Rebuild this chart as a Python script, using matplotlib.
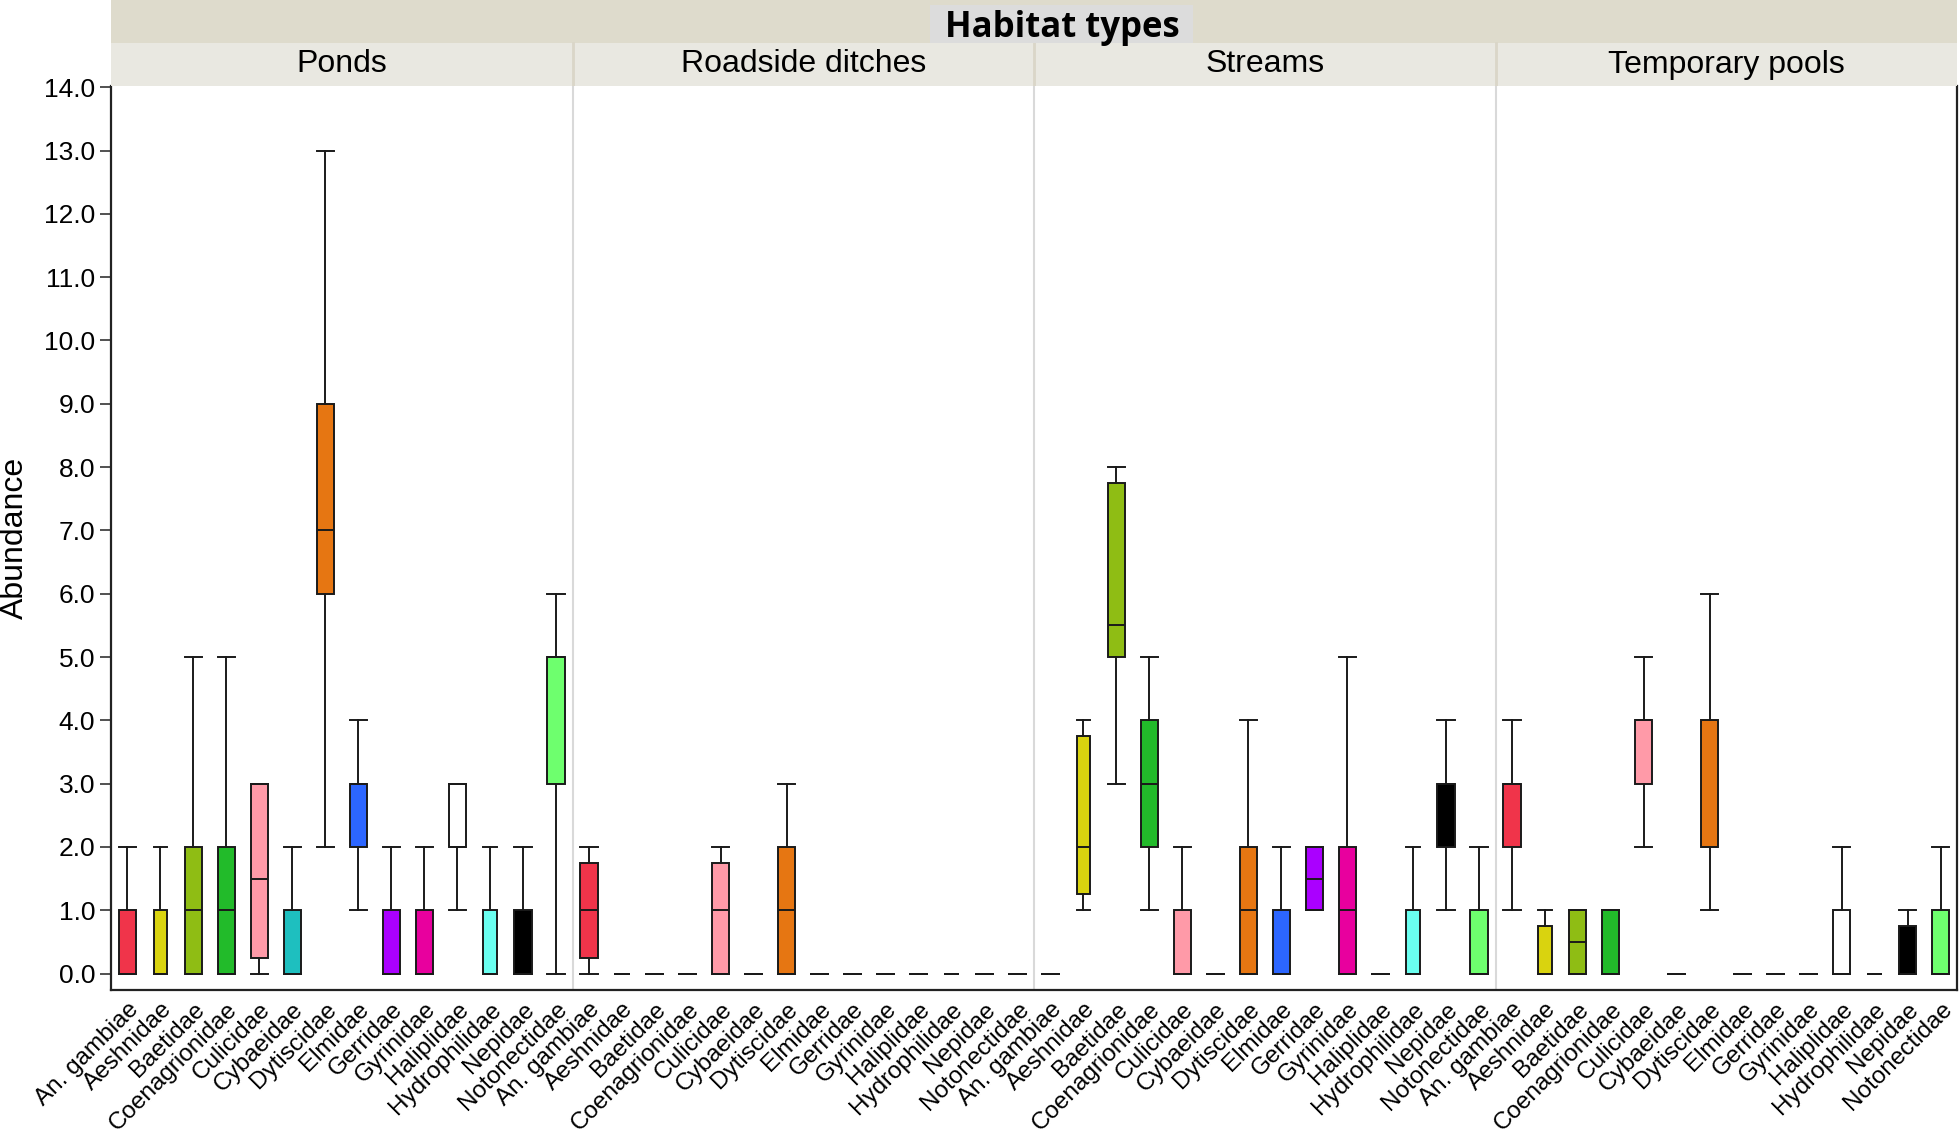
import matplotlib
matplotlib.use("Agg")
import matplotlib.pyplot as plt
from matplotlib.patches import Rectangle

plt.rcParams['font.family'] = ['Liberation Sans', 'DejaVu Sans']

# ---------------- data ----------------
taxa = ["An. gambiae", "Aeshnidae", "Baetidae", "Coenagrionidae", "Culicidae",
        "Cybaeidae", "Dytiscidae", "Elmidae", "Gerridae", "Gyrinidae",
        "Haliplidae", "Hydrophilidae", "Nepidae", "Notonectidae"]
habitats = ["Ponds", "Roadside ditches", "Streams", "Temporary pools"]

# five-number summaries per taxon: (min, q1, median, q3, max)
ponds = [(0, 0, 0, 1, 2), (0, 0, 0, 1, 2), (0, 0, 1, 2, 5), (0, 0, 1, 2, 5),
         (0, 0.25, 1.5, 3, 3), (0, 0, 0, 1, 2), (2, 6, 7, 9, 13), (1, 2, 3, 3, 4),
         (0, 0, 0, 1, 2), (0, 0, 0, 1, 2), (1, 2, 2, 3, 3), (0, 0, 0, 1, 2),
         (0, 0, 0, 1, 2), (0, 3, 5, 5, 6)]
roadside = [(0, 0.25, 1, 1.75, 2), (0, 0, 0, 0, 0), (0, 0, 0, 0, 0), (0, 0, 0, 0, 0),
            (0, 0, 1, 1.75, 2), (0, 0, 0, 0, 0), (0, 0, 1, 2, 3), (0, 0, 0, 0, 0),
            (0, 0, 0, 0, 0), (0, 0, 0, 0, 0), (0, 0, 0, 0, 0), (0, 0, 0, 0, 0),
            (0, 0, 0, 0, 0), (0, 0, 0, 0, 0)]
streams = [(0, 0, 0, 0, 0), (1, 1.25, 2, 3.75, 4), (3, 5, 5.5, 7.75, 8), (1, 2, 3, 4, 5),
           (0, 0, 0, 1, 2), (0, 0, 0, 0, 0), (0, 0, 1, 2, 4), (0, 0, 0, 1, 2),
           (1, 1, 1.5, 2, 2), (0, 0, 1, 2, 5), (0, 0, 0, 0, 0), (0, 0, 0, 1, 2),
           (1, 2, 3, 3, 4), (0, 0, 0, 1, 2)]
temp_pools = [(1, 2, 3, 3, 4), (0, 0, 0, 0.75, 1), (0, 0, 0.5, 1, 1), (0, 0, 1, 1, 1),
              (2, 3, 4, 4, 5), (0, 0, 0, 0, 0), (1, 2, 2, 4, 6), (0, 0, 0, 0, 0),
              (0, 0, 0, 0, 0), (0, 0, 0, 0, 0), (0, 0, 0, 1, 2), (0, 0, 0, 0, 0),
              (0, 0, 0, 0.75, 1), (0, 0, 0, 1, 2)]
yticks = [0, 1, 2, 3, 4, 5, 6, 7, 8, 9, 10, 11, 12, 13, 14]

# ---------------- style ----------------
colors = ["#F0344A", "#D9D30F", "#8FBD14", "#22BB2A", "#FF9AA8", "#1EBFBF",
          "#E67612", "#2C66FF", "#AA00FF", "#E8009E", "#FFFFFF", "#6AFFF0",
          "#000000", "#6EFF6E"]
box_w = [0.52, 0.40, 0.52, 0.52, 0.52, 0.52, 0.52, 0.52, 0.52, 0.52, 0.52, 0.40, 0.52, 0.52]

W, H = 1960, 1132
fig = plt.figure(figsize=(W / 100, H / 100), dpi=100)
L, R, T, B = 111, 1957, 86, 990
ax = fig.add_axes([L / W, 1 - B / H, (R - L) / W, (B - T) / H])

all_data = [ponds, roadside, streams, temp_pools]
n = len(taxa)
for p, dat in enumerate(all_data):
    stats = [dict(whislo=mn, q1=q1, med=med, q3=q3, whishi=mx, fliers=[])
             for (mn, q1, med, q3, mx) in dat]
    pos = [p * n + i for i in range(n)]
    res = ax.bxp(stats, positions=pos, widths=box_w, capwidths=box_w,
                 patch_artist=True, showfliers=False, manage_ticks=False,
                 boxprops=dict(edgecolor="#1a1a1a", linewidth=1.4),
                 whiskerprops=dict(color="#1a1a1a", linewidth=1.4),
                 capprops=dict(color="#1a1a1a", linewidth=1.4),
                 medianprops=dict(color="#1a1a1a", linewidth=1.4))
    for b, c in zip(res['boxes'], colors):
        b.set_facecolor(c)

for k in range(1, len(habitats)):
    ax.axvline(k * n - 0.5, color="#D9D9D9", linewidth=1.5, zorder=0)

ax.set_xlim(-0.5, len(habitats) * n - 0.5)
ax.set_ylim(-0.26, 14.02)
ax.set_yticks(yticks)
ax.set_yticklabels([f"{v:.1f}" for v in yticks], fontsize=19)
ax.tick_params(axis='y', length=8, width=1.2, color="#333333")
ax.set_xticks(range(len(habitats) * n))
ax.set_xticklabels(taxa * len(habitats), rotation=45, ha='right',
                   rotation_mode='anchor', fontsize=17.5)
ax.tick_params(axis='x', length=0, pad=6)
ax.spines['top'].set_visible(False)
for s in ['left', 'bottom', 'right']:
    ax.spines[s].set_linewidth(1.6)
    ax.spines[s].set_color("#222222")
ax.set_ylabel("Abundance", fontsize=23, labelpad=10)

# ---------------- header ----------------
hax = fig.add_axes([L / W, 1 - T / H, (R - L) / W, T / H])
hax.set_xlim(-0.5, len(habitats) * n - 0.5)
hax.set_ylim(0, T)
hax.axis('off')
hax.add_patch(Rectangle((-0.5, T - 43), len(habitats) * n, 43, facecolor="#DEDBCC",
                        edgecolor="none"))
for k, name in enumerate(habitats):
    hax.add_patch(Rectangle((k * n - 0.5, 0), n, T - 43, facecolor="#E9E8E1",
                            edgecolor="none"))
    hax.text(k * n + (n - 1) / 2, (T - 43) / 2, name, ha='center', va='center',
             fontsize=23)
    if k > 0:
        hax.plot([k * n - 0.5, k * n - 0.5], [0, T - 43], color="#DAD6C8", linewidth=2)
fig.patches.append(Rectangle((930 / W, 1 - 43 / H), 263 / W, 38 / H,
                             transform=fig.transFigure, facecolor="#DCDCDC",
                             edgecolor="none", zorder=5))
fig.text(1062 / W, 1 - 28 / H, "Habitat types", ha='center', va='center',
         fontsize=25, fontweight='bold', family=['Open Sans', 'DejaVu Sans'], zorder=6)

fig.savefig("out.png", dpi=100)
